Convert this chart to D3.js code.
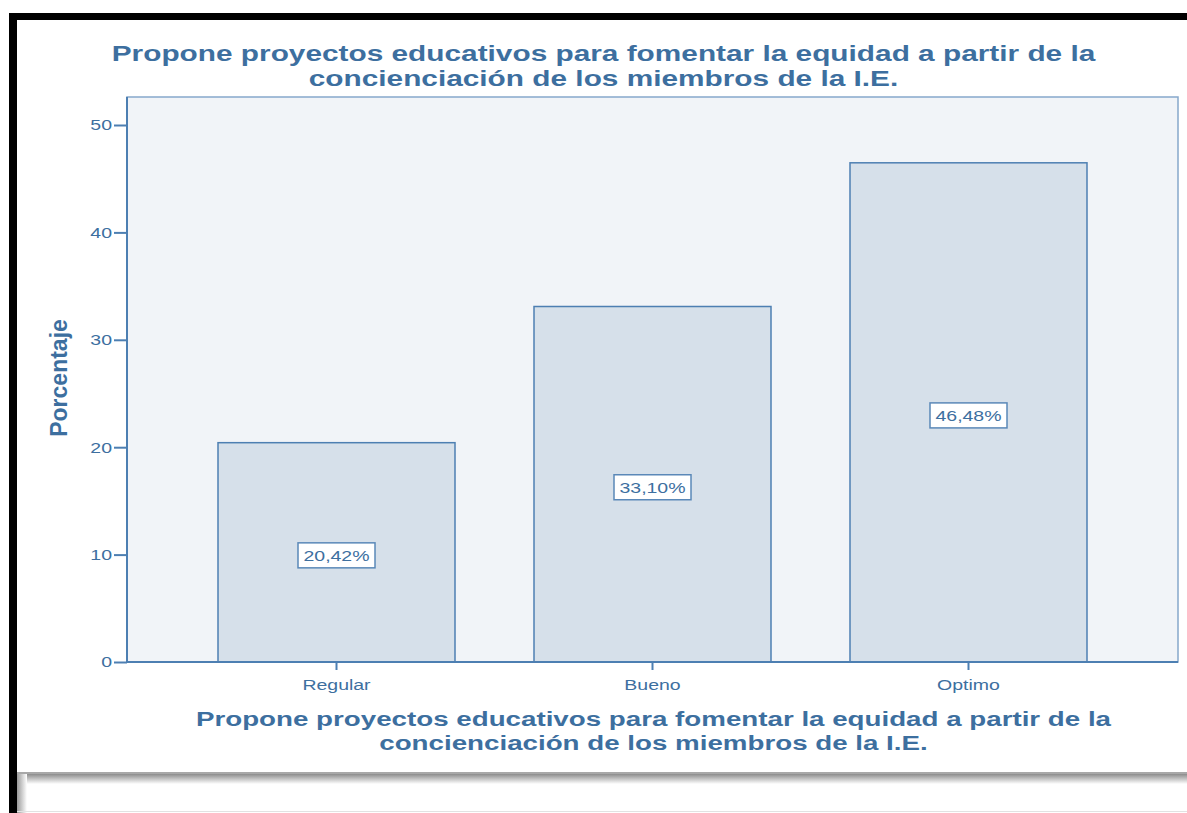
<!DOCTYPE html>
<html>
<head>
<meta charset="utf-8">
<script src="https://cdn.jsdelivr.net/npm/d3@7"></script>
<style>
html,body{margin:0;padding:0;background:#fff;}
svg{display:block;}
</style>
</head>
<body>
<svg id="chart" width="1187" height="813"></svg>
<script>
const categories = ["Regular", "Bueno", "Optimo"];
const values = [20.42, 33.10, 46.48];
const valueLabels = ["20,42%", "33,10%", "46,48%"];
const yTicks = [0, 10, 20, 30, 40, 50];
const titleLines = ["Propone proyectos educativos para fomentar la equidad a partir de la", "concienciación de los miembros de la I.E."];
const yTitle = "Porcentaje";

const blue = "#3d6f9f";
const SX = 1.3; // horizontal stretch of the source rendering
const FONT = "Liberation Sans, Arial, sans-serif";
const svg = d3.select("#chart");

// frame decorations (screenshot border)
const defs = svg.append("defs");
const g1 = defs.append("linearGradient").attr("id","shadowH").attr("x1",0).attr("x2",0).attr("y1",0).attr("y2",1);
g1.append("stop").attr("offset","0%").attr("stop-color","#8c8c8c");
g1.append("stop").attr("offset","100%").attr("stop-color","#ffffff");
const g2 = defs.append("linearGradient").attr("id","shadowV").attr("x1",0).attr("x2",1).attr("y1",0).attr("y2",0);
g2.append("stop").attr("offset","0%").attr("stop-color","#9a9a9a");
g2.append("stop").attr("offset","100%").attr("stop-color","#ffffff");

svg.append("rect").attr("x",9).attr("y",13).attr("width",1178).attr("height",7).attr("fill","#000");
svg.append("rect").attr("x",9).attr("y",13).attr("width",8).attr("height",800).attr("fill","#000");
svg.append("rect").attr("x",17).attr("y",772).attr("width",1170).attr("height",2).attr("fill","#a8a8a8");
svg.append("rect").attr("x",17).attr("y",774).attr("width",1170).attr("height",10).attr("fill","url(#shadowH)");
svg.append("rect").attr("x",17).attr("y",774).attr("width",10).attr("height",39).attr("fill","url(#shadowV)");
svg.append("rect").attr("x",17).attr("y",811).attr("width",1170).attr("height",1).attr("fill","#e2e2e2");

// plot area
const plot = {left:127, top:97, right:1178, bottom:662};
const y = d3.scaleLinear().domain([0, 50]).range([662, 125]);
const x = d3.scaleBand().domain(categories).range([178.5, 1126.5]).paddingInner(0.25).paddingOuter(0.125);

svg.append("rect").attr("x",plot.left).attr("y",plot.top)
  .attr("width",plot.right-plot.left).attr("height",plot.bottom-plot.top)
  .attr("fill","#f1f4f8").attr("stroke","#86a8cb").attr("stroke-width",1.5);

// bars
svg.append("g").selectAll("rect").data(values).join("rect")
  .attr("x",(d,i)=>x(categories[i]))
  .attr("y",d=>y(d))
  .attr("width",x.bandwidth())
  .attr("height",d=>y(0)-y(d))
  .attr("fill","#d6e0ea").attr("stroke","#4d7fb2").attr("stroke-width",1.5);

// value labels
const lab = svg.append("g").selectAll("g").data(values).join("g")
  .attr("transform",(d,i)=>`translate(${x(categories[i])+x.bandwidth()/2},${y(d/2)+3})`);
lab.append("rect").attr("x",-38.5).attr("y",-12.5).attr("width",77).attr("height",25)
  .attr("fill","#fff").attr("stroke","#5a88b8").attr("stroke-width",1.5);
lab.append("text").text((d,i)=>valueLabels[i]).attr("text-anchor","middle").attr("dy","0.36em")
  .attr("transform",`scale(${SX},1)`)
  .attr("font-family",FONT).attr("font-size",15).attr("fill",blue);

// y axis
const yAxis = svg.append("g").attr("transform",`translate(${plot.left},0)`)
  .call(d3.axisLeft(y).tickValues(yTicks).tickSize(13).tickPadding(3).tickFormat(d3.format("d")));
yAxis.select(".domain").attr("stroke","#4d7fb2").attr("stroke-width",2).attr("d",`M0,${plot.top}V${plot.bottom}`);
yAxis.selectAll(".tick line").attr("stroke","#4d7fb2").attr("stroke-width",2);
yAxis.selectAll(".tick text").attr("fill",blue).attr("font-size",15).attr("font-family",FONT)
  .attr("x",0).attr("transform",`translate(-15,0) scale(${SX},1)`);

// x axis
const xAxis = svg.append("g").attr("transform",`translate(0,${plot.bottom})`)
  .call(d3.axisBottom(x).tickSize(8).tickPadding(9));
xAxis.select(".domain").attr("stroke","#4d7fb2").attr("stroke-width",2).attr("d",`M${plot.left},0H${plot.right}`);
xAxis.selectAll(".tick line").attr("stroke","#4d7fb2").attr("stroke-width",2);
xAxis.selectAll(".tick text").attr("fill",blue).attr("font-size",15).attr("font-family",FONT)
  .attr("transform",`scale(${SX},1)`);

// titles
function title(cx, ys, size, sx) {
  const t = svg.append("text").attr("text-anchor","middle").attr("fill",blue)
    .attr("font-family",FONT).attr("font-weight","bold").attr("font-size",size)
    .attr("transform",`translate(${cx},0) scale(${sx},1)`);
  titleLines.forEach((s,i)=>t.append("tspan").attr("x",0).attr("y",ys[i]).text(s));
}
title(603.5, [61, 86], 22, 1.355);
title(653.5, [726, 750], 20.5, 1.353);

svg.append("text").attr("transform","translate(67,378) rotate(-90)").attr("text-anchor","middle")
  .attr("fill",blue).attr("font-family","Liberation Sans Narrow, Arial Narrow, sans-serif")
  .attr("font-weight","bold").attr("font-size",23).text(yTitle);
</script>
</body>
</html>
